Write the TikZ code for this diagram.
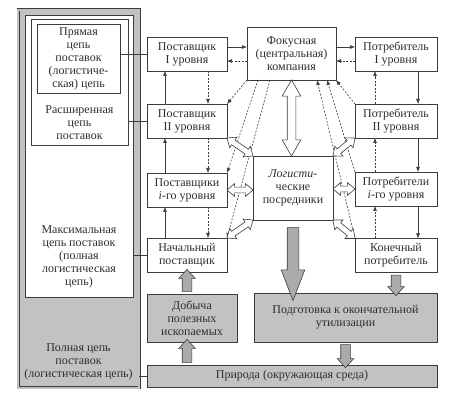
\documentclass[tikz,border=0pt]{standalone}
\usepackage{fontspec}
\setmainfont{Liberation Serif}
\usepackage{tikz}
\usetikzlibrary{arrows.meta,positioning,shapes.arrows,calc}
\definecolor{PanelGray}{HTML}{C2C2C2}
\definecolor{ArrowGray}{HTML}{ABABAB}
\definecolor{FrameInk} {HTML}{3C3C3C}
\definecolor{TextInk}  {HTML}{2E2E2E}
\tikzset{
  base/.style={draw=FrameInk,line width=0.7pt,inner sep=0pt,outer sep=0pt,
        text=TextInk,align=center,font=\fontsize{12}{13}\selectfont},
  frame/.style={base,fill=white},
  box/.style={base,fill=white,minimum width=80pt,minimum height=34pt},
  graybox/.style={base,fill=PanelGray},
  txt/.style={inner sep=0pt,text=TextInk,align=center,font=\fontsize{12}{13}\selectfont},
  link/.style={draw=FrameInk,line width=0.6pt},
  flow/.style={link,-{Latex[length=5pt,width=4pt]}},
  info/.style={flow,dash pattern=on 2pt off 1.5pt},
  dbl/.style={double arrow,draw=FrameInk,fill=white,line width=0.6pt,inner xsep=0pt,
        inner ysep=2.6pt,double arrow head extend=3.5pt,double arrow tip angle=80},
  bigdbl/.style={dbl,inner ysep=4pt,double arrow head extend=5pt,double arrow tip angle=60},
  blk/.style={single arrow,draw=FrameInk,fill=ArrowGray,line width=0.6pt,inner xsep=0pt,
        inner ysep=4.5pt,single arrow head extend=3.5pt,single arrow tip angle=85},
  bigblk/.style={blk,inner ysep=5.5pt,single arrow head extend=6pt,single arrow tip angle=42}
}
% fat arrow between two points: style, name, from, to
\newcommand\blockarrow[4]{%
  \path let \p1=($(#4)-(#3)$), \n1={veclen(\x1,\y1)} in
    (#3) -- node[#1,sloped,allow upside down,minimum height=\n1] (#2) {} (#4);}

\begin{document}
\begin{tikzpicture}[x=1pt,y=-1pt]
\useasboundingbox (0,0) rectangle (458,411);

% nested chains on the left
\node[graybox,double=PanelGray,double distance=2pt,line width=0.5pt,
      minimum width=121pt,minimum height=378pt] (full) at (78.5,199) {};
\node[txt] (fulltxt) at (78.5,362) {Полная цепь\\поставок\\(логистическая цепь)};
\node[frame,minimum width=108pt,minimum height=282pt] (maxc) at (79,156) {};
\node[txt] (maxtxt) at (79,257) {Максимальная\\цепь поставок\\(полная\\логистическая\\цепь)};
\node[frame,minimum width=97pt,minimum height=126pt] (ext) at (79.5,82) {};
\node[txt] (exttxt) at (79.5,123) {Расширенная\\цепь\\поставок};
\node[frame,minimum width=83pt,minimum height=69pt] (direct) at (78.5,58.5)
  {Прямая\\цепь\\поставок\\(логистиче-\\ская) цепь};

% suppliers
\node[box] (s1) at (187,54) {Поставщик\\I уровня};
\node[box] (s2) at (187,121) {Поставщик\\II уровня};
\node[box] (si) at (187,190) {Поставщики\\\textit{i}-го уровня};
\node[box] (s0) at (187,255) {Начальный\\поставщик};

% consumers
\node[box,minimum width=82pt] (c1) at (396,54) {Потребитель\\I уровня};
\node[box,minimum width=82pt] (c2) at (396,121) {Потребитель\\II уровня};
\node[box,minimum width=82pt] (ci) at (396,189) {Потребители\\\textit{i}-го уровня};
\node[box,minimum width=82pt] (cn) at (396,255.5) {Конечный\\потребитель};

% centre
\node[box,minimum width=89pt,minimum height=53pt] (focal) at (291.5,53.5)
  {Фокусная\\(центральная)\\компания};
\node[box,minimum height=64pt] (logi) at (293,188) {\textit{Логисти-}\\ческие\\посредники};

% bottom
\node[graybox,minimum width=90pt,minimum height=48pt] (mining) at (192,318)
  {Добыча\\полезных\\ископаемых};
\node[graybox,minimum width=183pt,minimum height=49pt] (util) at (345.5,317.5)
  {Подготовка к окончательной\\утилизации};
\node[graybox,minimum width=290pt,minimum height=22pt] (nature) at (292,376)
  {Природа (окружающая среда)};

% chains to their members
\draw[link] (s1.west) -- (s1.west -| direct.east);
\draw[link] (s2.west) -- (s2.west -| ext.east);
\draw[link] (s0.west) -- (s0.west -| maxc.east);
\draw[link] (nature.west) -- (nature.west -| full.east);

% material and information flows
\foreach \a/\b in {s2/s1,si/s2,s0/si}
  \draw[flow] ([xshift=-22pt]\a.north) -- ([xshift=-22pt]\b.south);
\foreach \a/\b in {s1/s2,s2/si,si/s0}
  \draw[info] ([xshift=21pt]\a.south) -- ([xshift=21pt]\b.north);
\foreach \a/\b in {c1/c2,c2/ci,ci/cn}
  \draw[flow] ([xshift=22pt]\a.south) -- ([xshift=22pt]\b.north);
\foreach \a/\b in {c2/c1,ci/c2,cn/ci}
  \draw[info] ([xshift=-21pt]\a.north) -- ([xshift=-21pt]\b.south);

\draw[flow] ([yshift=7pt]s1.east) -- ([yshift=7pt]s1.east -| focal.west);
\draw[info] ([yshift=-7pt]s1.east -| focal.west) -- ([yshift=-7pt]s1.east);
\draw[flow] ([yshift=7pt]c1.west -| focal.east) -- ([yshift=7pt]c1.west);
\draw[info] ([yshift=-7pt]c1.west) -- ([yshift=-7pt]c1.west -| focal.east);

\draw[info] (focal.south west) -- (s2.north east);
\draw[info] ([xshift=11pt]focal.south west) -- (si.north east);
\draw[info] ([xshift=23pt]focal.south west) -- (s0.north east);
\draw[info] (c2.north west) -- (focal.south east);
\draw[info] (ci.north west) -- ([xshift=-9pt]focal.south east);
\draw[info] (cn.north west) -- ([xshift=-19pt]focal.south east);

% logistics intermediaries
\blockarrow{bigdbl}{fl}{focal.south}{focal.south |- logi.north}
\blockarrow{dbl}{sl2}{s2.south east}{logi.north west}
\blockarrow{dbl}{sli}{si.east}{si.east -| logi.west}
\blockarrow{dbl}{sl0}{s0.north east}{logi.south west}
\blockarrow{dbl}{cl2}{c2.south west}{logi.north east}
\blockarrow{dbl}{cli}{ci.west}{ci.west -| logi.east}
\blockarrow{dbl}{cln}{cn.north west}{logi.south east}

% recycling
\blockarrow{bigblk}{lu}{logi.south}{logi.south |- util.north}
\blockarrow{blk}{cu}{cn.south}{cn.south |- util.north}
\blockarrow{blk}{un}{util.south}{util.south |- nature.north}
\blockarrow{blk}{nm}{s0.south |- nature.north}{s0.south |- mining.south}
\blockarrow{blk}{ms}{s0.south |- mining.north}{s0.south}
\end{tikzpicture}
\end{document}
